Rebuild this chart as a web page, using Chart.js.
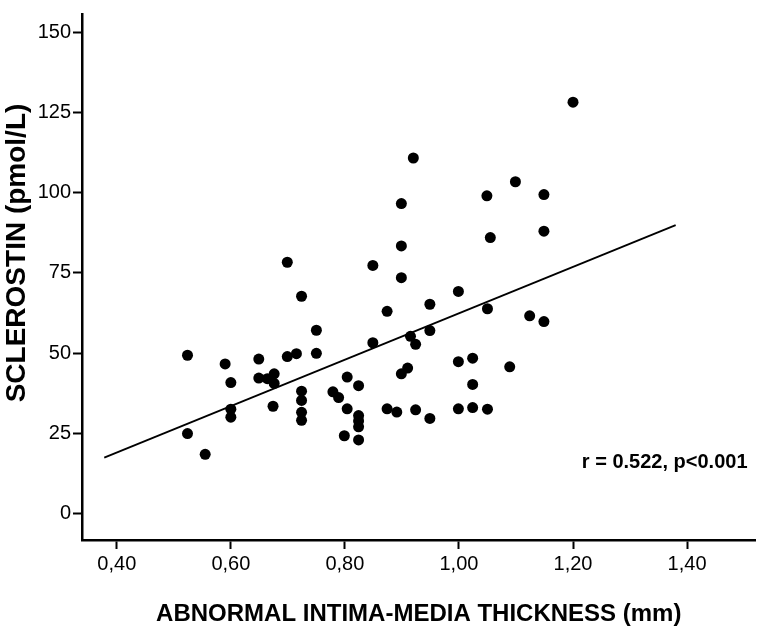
<!DOCTYPE html>
<html>
<head>
<meta charset="utf-8">
<title>Sclerostin vs abnormal intima-media thickness</title>
<script src="https://cdn.jsdelivr.net/npm/chart.js@4.4.1/dist/chart.umd.min.js"></script>
<style>
  html, body { margin: 0; padding: 0; background: #fff; }
  #wrap { width: 761px; height: 630px; }
</style>
</head>
<body>
<div id="wrap"><canvas id="chart"></canvas></div>
<script>
// ===== Data =====
const imt = [
  0.724, 0.750, 0.524, 0.590, 0.649, 0.699, 0.715, 0.750, 0.849, 0.600,
  0.649, 0.664, 0.676, 0.676, 0.724, 0.724, 0.724, 0.724, 0.674, 0.600,
  0.600, 0.524, 0.555, 0.779, 0.789, 0.804, 0.824, 0.804, 0.824, 0.824,
  0.824, 0.799, 0.824,
  0.849, 0.899, 0.999, 0.874, 0.949, 1.050, 1.124, 1.149, 0.915, 0.924,
  0.949, 0.999, 1.024, 1.089, 0.910, 0.899, 1.024, 0.874, 0.891, 0.924,
  0.949, 0.999, 1.024, 1.050,
  1.200, 0.920, 0.899, 0.899, 1.049, 1.099, 1.149, 1.055, 1.149, 0.699,
];
const sclerostin = [
  67.7, 57.1, 49.3, 46.6, 48.1, 48.9, 49.8, 49.9, 53.2, 40.8,
  42.2, 42.0, 43.5, 40.5, 38.1, 35.2, 31.5, 29.0, 33.4, 32.5,
  30.0, 24.9, 18.4, 37.9, 36.1, 42.5, 39.8, 32.6, 30.5, 28.8,
  27.0, 24.2, 22.9,
  77.3, 73.5, 69.2, 63.0, 65.2, 63.8, 61.6, 59.8, 55.2, 52.7,
  57.0, 47.3, 48.4, 45.7, 45.3, 43.5, 40.2, 32.6, 31.6, 32.3,
  29.6, 32.6, 33.0, 32.5,
  128.2, 110.8, 96.6, 83.4, 99.0, 103.4, 99.4, 86.0, 88.0, 78.3,
];
// fitted regression line, end points
const fitX = [0.378, 1.38];
const fitY = [17.4, 89.9];

const xTicks = [0.4, 0.6, 0.8, 1.0, 1.2, 1.4];
const yTicks = [0, 25, 50, 75, 100, 125, 150];
const xTitle = "ABNORMAL INTIMA-MEDIA THICKNESS (mm)";
const yTitle = "SCLEROSTIN (pmol/L)";
const statsLabel = "r = 0.522, p<0.001";

// ===== Chart =====
const FONT = "'Liberation Sans', Arial, Helvetica, sans-serif";
Chart.defaults.font.family = FONT;
Chart.defaults.color = "#000";

// stats note + y title (the SPSS original puts the title a bit above centre)
const extraText = {
  id: "extraText",
  afterDraw(chart) {
    const { ctx, chartArea } = chart;
    ctx.save();
    ctx.fillStyle = "#000";
    ctx.font = "bold 20px " + FONT;
    ctx.textAlign = "right";
    ctx.textBaseline = "middle";
    ctx.fillText(statsLabel, chartArea.right - 8, 462);

    ctx.translate(17, 253);
    ctx.rotate(-Math.PI / 2);
    ctx.font = "bold 28px " + FONT;
    ctx.textAlign = "center";
    ctx.fillText(yTitle, 0, 0);
    ctx.restore();
  },
};

function axisStyle() {
  return {
    grid: {
      display: true,
      drawOnChartArea: false,
      drawTicks: true,
      tickLength: 9,
      tickWidth: 2,
      tickColor: "#000",
    },
    border: { display: true, color: "#000", width: 2.5 },
  };
}

new Chart(document.getElementById("chart"), {
  type: "scatter",
  data: {
    datasets: [
      {
        label: "Patients",
        data: imt.map((x, i) => ({ x, y: sclerostin[i] })),
        backgroundColor: "#000",
        borderWidth: 0,
        pointRadius: 5.5,
      },
      {
        type: "line",
        label: "Fit",
        data: fitX.map((x, i) => ({ x, y: fitY[i] })),
        borderColor: "#000",
        borderWidth: 1.8,
        pointRadius: 0,
        fill: false,
      },
    ],
  },
  options: {
    responsive: true,
    maintainAspectRatio: false,
    animation: false,
    layout: { padding: { top: 2, right: 3, left: 0, bottom: 0 } },
    plugins: { legend: { display: false }, tooltip: { enabled: false } },
    scales: {
      x: {
        type: "linear",
        min: 0.339,
        max: 1.52,
        ...axisStyle(),
        afterBuildTicks: (axis) => { axis.ticks = xTicks.map((v) => ({ value: v })); },
        afterFit: (axis) => { axis.height = 90; },
        ticks: {
          color: "#000",
          font: { size: 20 },
          padding: 3,
          maxRotation: 0,
          callback: (v) => v.toFixed(2).replace(".", ","),
        },
        title: {
          display: true,
          text: xTitle,
          color: "#000",
          font: { size: 24, weight: "bold" },
          padding: { top: 0, bottom: 1 },
        },
      },
      y: {
        type: "linear",
        min: -8.3,
        max: 155.7,
        ...axisStyle(),
        afterBuildTicks: (axis) => { axis.ticks = yTicks.map((v) => ({ value: v })); },
        afterFit: (axis) => { axis.width = 82; },
        ticks: {
          color: "#000",
          font: { size: 20 },
          padding: 2,
          callback: (v) => String(v),
        },
        title: { display: false },
      },
    },
  },
  plugins: [extraText],
});
</script>
</body>
</html>
